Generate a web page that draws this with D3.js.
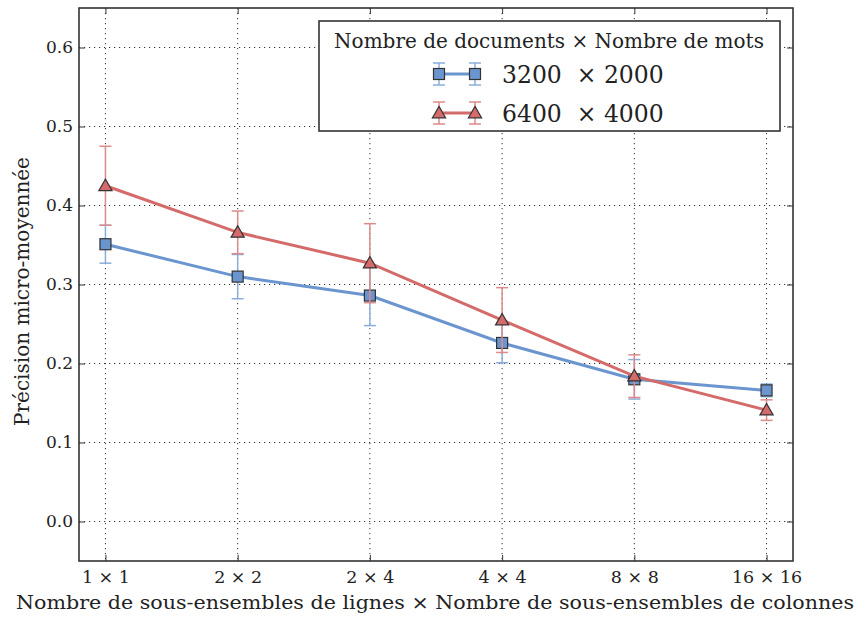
<!DOCTYPE html>
<html>
<head>
<meta charset="utf-8">
<script src="https://cdn.jsdelivr.net/npm/d3@7"></script>
<style>
  body { margin: 0; background: #fff; }
  svg { display: block; }
</style>
</head>
<body>
<svg class="chart" width="857" height="617"></svg>
<script>
const categories = ["1 × 1", "2 × 2", "2 × 4", "4 × 4", "8 × 8", "16 × 16"];
const blueMean = [0.351, 0.310, 0.286, 0.226, 0.180, 0.166];
const blueErr  = [0.024, 0.028, 0.038, 0.025, 0.025, 0.008];
const redMean  = [0.425, 0.366, 0.327, 0.255, 0.184, 0.141];
const redErr   = [0.050, 0.027, 0.050, 0.041, 0.027, 0.013];
const yTicks = [0.0, 0.1, 0.2, 0.3, 0.4, 0.5, 0.6];

const series = [
    {name: "3200", times: "2000", mean: blueMean, err: blueErr, color: "#6b95cf", errColor: "#8aaedc", marker: "square"},
    {name: "6400", times: "4000", mean: redMean, err: redErr, color: "#d46a6a", errColor: "#de8a8a", marker: "triangle"}
];

const serif = "'DejaVu Serif', serif";

const margin = {top: 8, right: 64, bottom: 56, left: 79},
    width = 857 - margin.left - margin.right,
    height = 617 - margin.top - margin.bottom;

const svg = d3.select(".chart")
    .append("g")
    .attr("transform", `translate(${margin.left},${margin.top})`);

const x = d3.scaleLinear()
    .domain([-0.2, categories.length - 1 + 0.2])
    .range([0, width]);

const y = d3.scaleLinear()
    .domain([-0.05, 0.65])
    .range([height, 0]);

// grid
svg.append("g")
    .selectAll("line")
    .data(yTicks)
    .enter().append("line")
    .attr("x1", 0).attr("x2", width)
    .attr("y1", d => y(d)).attr("y2", d => y(d))
    .attr("stroke", "#333").attr("stroke-width", 1)
    .attr("stroke-dasharray", "1.2,3.8");

svg.append("g")
    .selectAll("line")
    .data(categories)
    .enter().append("line")
    .attr("x1", (d, i) => x(i)).attr("x2", (d, i) => x(i))
    .attr("y1", 0).attr("y2", height)
    .attr("stroke", "#333").attr("stroke-width", 1)
    .attr("stroke-dasharray", "1.2,3.8");

// axes (ticks inside)
const yAxis = svg.append("g")
    .call(d3.axisLeft(y).tickValues(yTicks).tickFormat(d3.format(".1f")).tickSize(-6).tickPadding(6));
const yAxisR = svg.append("g")
    .attr("transform", `translate(${width},0)`)
    .call(d3.axisRight(y).tickValues(yTicks).tickSize(-6).tickFormat(""));
const xAxis = svg.append("g")
    .attr("transform", `translate(0,${height})`)
    .call(d3.axisBottom(x).tickValues(d3.range(categories.length)).tickFormat(i => categories[i]).tickSize(-6).tickPadding(10));
const xAxisT = svg.append("g")
    .call(d3.axisTop(x).tickValues(d3.range(categories.length)).tickSize(-6).tickFormat(""));

[yAxis, yAxisR, xAxis, xAxisT].forEach(a => {
    a.select(".domain").remove();
    a.selectAll(".tick line").attr("stroke", "#333").attr("stroke-width", 1);
});

yAxis.selectAll(".tick text")
    .style("font-family", serif)
    .style("font-size", "17px")
    .style("fill", "#222");

xAxis.selectAll(".tick text")
    .style("font-family", serif)
    .style("font-size", "17.5px")
    .style("fill", "#222");

// frame
svg.append("rect")
    .attr("width", width).attr("height", height)
    .attr("fill", "none").attr("stroke", "#333").attr("stroke-width", 1.6);

// lines
const line = d3.line()
    .x((d, i) => x(i))
    .y(d => y(d));

function drawMarker(g, type, cx, cy, color) {
    if (type === "square") {
        g.append("rect")
            .attr("x", cx - 5.5).attr("y", cy - 5.5)
            .attr("width", 11).attr("height", 11)
            .attr("fill", color).attr("stroke", "#333").attr("stroke-width", 1.2);
    } else {
        const s = d3.symbol().type(d3.symbolTriangle).size(75);
        g.append("path")
            .attr("d", s())
            .attr("transform", `translate(${cx},${cy + 1})`)
            .attr("fill", color).attr("stroke", "#333").attr("stroke-width", 1.2);
    }
}

function drawErr(g, cx, cy0, cy1, color) {
    g.append("line").attr("x1", cx).attr("x2", cx).attr("y1", cy0).attr("y2", cy1)
        .attr("stroke", color).attr("stroke-width", 1.5);
    [cy0, cy1].forEach(v => g.append("line")
        .attr("x1", cx - 6).attr("x2", cx + 6).attr("y1", v).attr("y2", v)
        .attr("stroke", color).attr("stroke-width", 1.5));
}

series.forEach(s => {
    const g = svg.append("g");
    g.append("path")
        .datum(s.mean)
        .attr("d", line)
        .attr("fill", "none")
        .attr("stroke", s.color)
        .attr("stroke-width", 3);
    s.mean.forEach((m, i) => drawErr(g, x(i), y(m + s.err[i]), y(m - s.err[i]), s.errColor));
    s.mean.forEach((m, i) => drawMarker(g, s.marker, x(i), y(m), s.color));
});

// axis labels
svg.append("text")
    .attr("x", 435 - margin.left)
    .attr("y", height + 48)
    .attr("text-anchor", "middle")
    .attr("textLength", 838)
    .attr("lengthAdjust", "spacingAndGlyphs")
    .style("font-family", serif)
    .style("font-size", "18.5px")
    .style("fill", "#222")
    .text("Nombre de sous-ensembles de lignes × Nombre de sous-ensembles de colonnes");

svg.append("text")
    .attr("transform", "rotate(-90)")
    .attr("x", -height / 2 - 7)
    .attr("y", -50)
    .attr("text-anchor", "middle")
    .style("font-family", serif)
    .style("font-size", "20px")
    .style("fill", "#222")
    .text("Précision micro-moyennée");

// legend
const legend = svg.append("g")
    .attr("transform", `translate(${319 - margin.left},${21 - margin.top})`);

legend.append("rect")
    .attr("width", 461).attr("height", 110)
    .attr("fill", "#fff").attr("stroke", "#333").attr("stroke-width", 1.6);

legend.append("text")
    .attr("x", 230).attr("y", 27)
    .attr("text-anchor", "middle")
    .style("font-family", serif)
    .style("font-size", "20px")
    .style("fill", "#222")
    .text("Nombre de documents × Nombre de mots");

series.forEach((s, i) => {
    const ly = 53 + i * 39;
    const g = legend.append("g");
    g.append("line")
        .attr("x1", 120).attr("x2", 156).attr("y1", ly).attr("y2", ly)
        .attr("stroke", s.color).attr("stroke-width", 3);
    [120, 156].forEach(lx => drawErr(g, lx, ly - 11, ly + 11, s.errColor));
    [120, 156].forEach(lx => drawMarker(g, s.marker, lx, ly, s.color));
    g.append("text")
        .attr("x", 183).attr("y", ly + 9)
        .style("font-family", serif)
        .style("font-size", "23.5px")
        .style("fill", "#222")
        .attr("xml:space", "preserve")
        .text(s.name + "  × " + s.times);
});
</script>
</body>
</html>
